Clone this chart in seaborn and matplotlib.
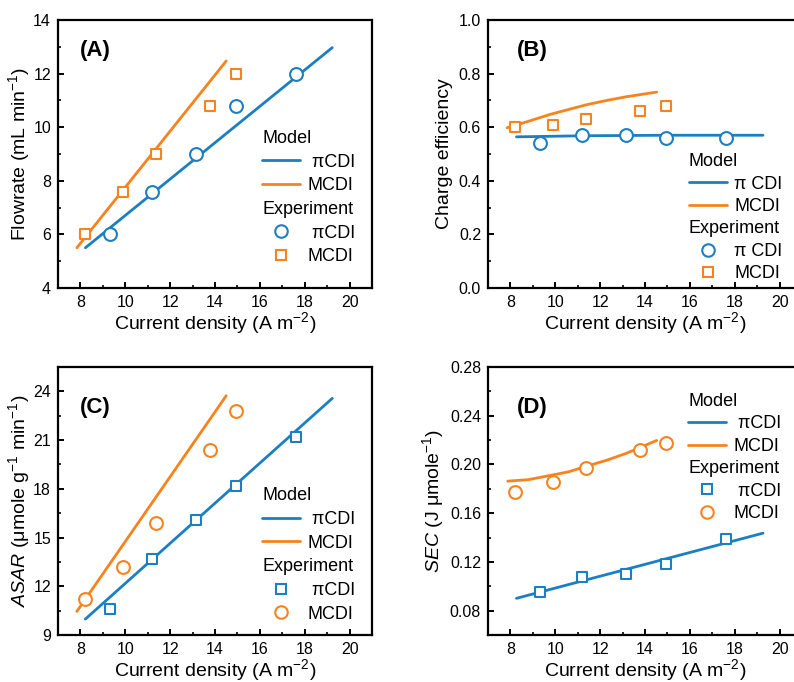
import numpy as np
import pandas as pd
import matplotlib
matplotlib.use("Agg")
import matplotlib.pyplot as plt
import seaborn as sns
from matplotlib.lines import Line2D
from matplotlib.ticker import MultipleLocator, FormatStrFormatter

# ---- data ----
exp_x_pi = [9.3, 11.2, 13.15, 14.95, 17.62]
exp_x_m = [8.22, 9.88, 11.37, 13.76, 14.94]

# (A) Flowrate
flow_pi = [6.0, 7.6, 9.0, 10.8, 12.0]
flow_m = [6.0, 7.6, 9.0, 10.8, 12.0]
flow_model_pi_x = [8.22, 19.23]
flow_model_pi_y = [5.5, 12.97]
flow_model_m_x = [7.84, 14.5]
flow_model_m_y = [5.5, 12.47]

# (B) Charge efficiency
ce_pi = [0.54, 0.57, 0.57, 0.56, 0.56]
ce_m = [0.60, 0.61, 0.63, 0.66, 0.68]
ce_model_pi_x = [8.27, 11.2, 14.96, 19.26]
ce_model_pi_y = [0.564, 0.568, 0.570, 0.570]
ce_model_m_x = [7.85, 8.8, 9.78, 11.4, 12.3, 13.19, 14.52]
ce_model_m_y = [0.598, 0.622, 0.648, 0.684, 0.700, 0.714, 0.731]

# (C) ASAR
asar_pi = [10.6, 13.7, 16.1, 18.2, 21.2]
asar_m = [11.2, 13.2, 15.9, 20.4, 22.8]
asar_model_pi_x = [8.22, 19.23]
asar_model_pi_y = [9.98, 23.57]
asar_model_m_x = [7.84, 14.5]
asar_model_m_y = [10.45, 23.73]

# (D) SEC
sec_pi = [0.095, 0.108, 0.110, 0.118, 0.139]
sec_m = [0.177, 0.186, 0.197, 0.212, 0.218]
sec_model_pi_x = [8.27, 19.26]
sec_model_pi_y = [0.0901, 0.1436]
sec_model_m_x = [7.88, 8.8, 9.78, 10.6, 11.4, 12.3, 13.19, 14.52]
sec_model_m_y = [0.1863, 0.1875, 0.191, 0.194, 0.1986, 0.2035, 0.2093, 0.2197]

BLUE = "#1b7fc2"
ORANGE = "#f7831f"

sns.set_theme(style="white")
plt.rcParams["font.family"] = ["Liberation Sans", "DejaVu Sans"]
plt.rcParams["mathtext.fontset"] = "custom"
plt.rcParams["mathtext.rm"] = "Liberation Sans"
plt.rcParams["mathtext.it"] = "Liberation Sans:italic"
plt.rcParams["axes.linewidth"] = 1.6
plt.rcParams["axes.edgecolor"] = "black"
plt.rcParams["text.color"] = "black"
plt.rcParams["axes.labelcolor"] = "black"

fig = plt.figure(figsize=(7.94, 6.82), dpi=100)
W, H = 794, 682


def make_ax(left, top, width=314, height=268):
    return fig.add_axes([left / W, (H - top - height) / H, width / W, height / H])


axA = make_ax(58, 20)
axB = make_ax(488, 20)
axC = make_ax(58, 367)
axD = make_ax(488, 367)


def style(ax, ylim, major, minor):
    ax.set_xlim(7, 21)
    ax.set_ylim(*ylim)
    ax.xaxis.set_major_locator(MultipleLocator(2))
    ax.xaxis.set_minor_locator(MultipleLocator(1))
    ax.yaxis.set_major_locator(MultipleLocator(major))
    ax.yaxis.set_minor_locator(MultipleLocator(minor))
    ax.tick_params(which="both", direction="in", top=False, right=False,
                   bottom=True, left=True, colors="black", labelsize=11.5)
    ax.tick_params(which="major", length=4, width=1.4, pad=5)
    ax.tick_params(which="minor", length=2.5, width=1.2)
    ax.set_xlabel("Current density (A m$^{-2}$)", fontsize=14, labelpad=0)
    for s in ax.spines.values():
        s.set_color("black")
        s.set_linewidth(1.6)


def model(ax, x, y, color):
    sns.lineplot(x=x, y=y, ax=ax, color=color, lw=2, sort=False)


def points(ax, x, y, color, marker):
    size = 85 if marker == "o" else 60
    sns.scatterplot(x=x, y=y, ax=ax, marker=marker, s=size, facecolor="white",
                    edgecolor=color, linewidth=1.5, zorder=5)


def legend(ax, exp_markers, anchor, pi_label=" \u03c0CDI", spacing=0.37):
    hidden = Line2D([], [], alpha=0)
    handles = [hidden,
               Line2D([], [], color=BLUE, lw=2),
               Line2D([], [], color=ORANGE, lw=2),
               hidden,
               Line2D([], [], ls="", marker=exp_markers[0], mfc="white", mec=BLUE,
                      mew=1.5, ms=9 if exp_markers[0] == "o" else 7.5),
               Line2D([], [], ls="", marker=exp_markers[1], mfc="white", mec=ORANGE,
                      mew=1.5, ms=9 if exp_markers[1] == "o" else 7.5)]
    labels = ["Model", pi_label, "MCDI", "Experiment", pi_label, "MCDI"]
    leg = ax.legend(handles, labels, loc="upper left", bbox_to_anchor=anchor,
                    frameon=False, fontsize=13, handlelength=2.1, handletextpad=0.4,
                    labelspacing=spacing, borderpad=0, borderaxespad=0)
    fig.canvas.draw()
    shift = (2.1 + 0.4) * 13 * 100 / 72
    for t in leg.get_texts():
        if t.get_text() in ("Model", "Experiment"):
            t.set_position((-shift, 0))
    return leg


# (A)
model(axA, flow_model_pi_x, flow_model_pi_y, BLUE)
model(axA, flow_model_m_x, flow_model_m_y, ORANGE)
points(axA, exp_x_pi, flow_pi, BLUE, "o")
points(axA, exp_x_m, flow_m, ORANGE, "s")
style(axA, (4, 14), 2, 1)
axA.set_ylabel("Flowrate (mL min$^{-1}$)", fontsize=14, labelpad=1)
legend(axA, ("o", "s"), (0.65, 0.59))
axA.text(0.07, 0.888, "(A)", transform=axA.transAxes, fontsize=16,
         fontweight="bold", va="center")

# (B)
model(axB, ce_model_pi_x, ce_model_pi_y, BLUE)
model(axB, ce_model_m_x, ce_model_m_y, ORANGE)
points(axB, exp_x_pi, ce_pi, BLUE, "o")
points(axB, exp_x_m, ce_m, ORANGE, "s")
style(axB, (0, 1.0), 0.2, 0.1)
axB.yaxis.set_major_formatter(FormatStrFormatter("%.1f"))
axB.set_ylabel("Charge efficiency", fontsize=14, labelpad=4)
legend(axB, ("o", "s"), (0.64, 0.503), pi_label="\u03c0 CDI", spacing=0.3)
axB.text(0.092, 0.888, "(B)", transform=axB.transAxes, fontsize=16,
         fontweight="bold", va="center")

# (C)
model(axC, asar_model_pi_x, asar_model_pi_y, BLUE)
model(axC, asar_model_m_x, asar_model_m_y, ORANGE)
points(axC, exp_x_pi, asar_pi, BLUE, "s")
points(axC, exp_x_m, asar_m, ORANGE, "o")
style(axC, (9, 25.5), 3, 1.5)
axC.set_ylabel("$\\it{ASAR}$ (\u03bcmole g$^{-1}$ min$^{-1}$)", fontsize=14, labelpad=1)
legend(axC, ("s", "o"), (0.65, 0.551))
axC.text(0.07, 0.85, "(C)", transform=axC.transAxes, fontsize=16,
         fontweight="bold", va="center")

# (D)
model(axD, sec_model_pi_x, sec_model_pi_y, BLUE)
model(axD, sec_model_m_x, sec_model_m_y, ORANGE)
points(axD, exp_x_pi, sec_pi, BLUE, "s")
points(axD, exp_x_m, sec_m, ORANGE, "o")
style(axD, (0.06, 0.28), 0.04, 0.02)
axD.yaxis.set_major_formatter(FormatStrFormatter("%.2f"))
axD.set_ylabel("$\\it{SEC}$ (J \u03bcmole$^{-1}$)", fontsize=14, labelpad=3)
legend(axD, ("s", "o"), (0.637, 0.903), spacing=0.3)
axD.text(0.092, 0.85, "(D)", transform=axD.transAxes, fontsize=16,
         fontweight="bold", va="center")

fig.savefig("out.png", dpi=100)
